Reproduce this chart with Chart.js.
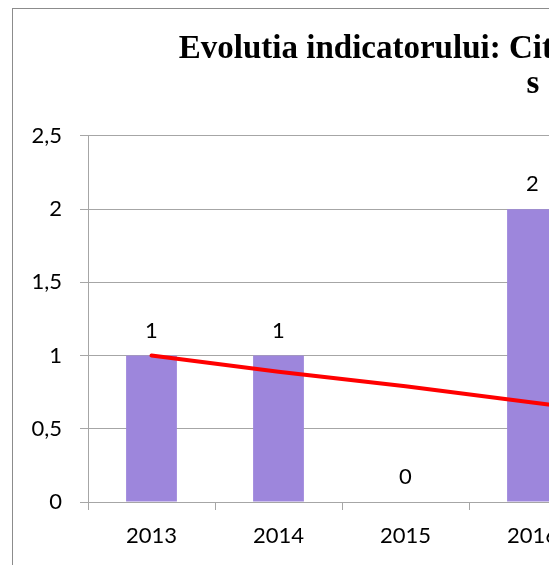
<!DOCTYPE html>
<html>
<head>
<meta charset="utf-8">
<script src="https://cdn.jsdelivr.net/npm/chart.js@4/dist/chart.umd.min.js"></script>
<style>
    html, body { margin: 0; padding: 0; background: #fff; overflow: hidden; }
    #frame {
        position: absolute; left: 12px; top: 8px;
        width: 1108px; height: 600px;
        border: 1px solid #8c8c8c;
    }
</style>
</head>
<body>
<div id="frame"><canvas id="chart"></canvas></div>
<script>
// DATA -----------------------------------------------------------------------

const years = ['2013', '2014', '2015', '2016', '2017', '2018', '2019', '2020']
const values = [1, 1, 0, 2, 0, 0, 1, 0]
const trend = [1, 0.89, 0.79, 0.68, 0.57, 0.46, 0.36, 0.25]
const yTickLabels = ['0', '0,5', '1', '1,5', '2', '2,5']
const titleLines = [
    'Evolutia indicatorului: Citari in reviste si volume BDI',
    's\u2002an'
]

// SETTINGS -------------------------------------------------------------------

const barColor = '#9d86dc'
const trendColor = '#ff0000'
const gridColor = '#a6a6a6'
const tickFont = {family: 'Lato', size: 22}

// value labels above the bars
const barLabels = {
    id: 'barLabels',
    afterDatasetsDraw(chart) {
        const ctx = chart.ctx
        const meta = chart.getDatasetMeta(1)
        ctx.save()
        ctx.font = `${tickFont.size}px ${tickFont.family}`
        ctx.fillStyle = '#000'
        ctx.textAlign = 'center'
        ctx.textBaseline = 'alphabetic'
        meta.data.forEach((bar, i) => {
            ctx.fillText(String(values[i]), bar.x, bar.y - 18)
        })
        ctx.restore()
    }
}

// CHART ----------------------------------------------------------------------

new Chart(document.getElementById('chart'), {
    data: {
        labels: years,
        datasets: [
            {
                type: 'line',
                data: trend,
                borderColor: trendColor,
                borderWidth: 4,
                borderCapStyle: 'round',
                pointRadius: 0,
                tension: 0,
                order: 0
            },
            {
                type: 'bar',
                data: values,
                backgroundColor: barColor,
                categoryPercentage: 0.4,
                barPercentage: 1,
                order: 1
            }
        ]
    },
    options: {
        responsive: true,
        maintainAspectRatio: false,
        animation: false,
        layout: {padding: {left: 0, right: 17, top: 0, bottom: 47}},
        plugins: {
            legend: {display: false},
            tooltip: {enabled: false},
            title: {
                display: true,
                text: titleLines,
                color: '#000',
                font: {family: 'Liberation Serif', size: 33, weight: 'bold', lineHeight: 1.09},
                padding: {top: 22, bottom: 33}
            }
        },
        scales: {
            x: {
                offset: true,
                grid: {
                    offset: true,
                    drawOnChartArea: false,
                    color: gridColor,
                    tickLength: 8
                },
                border: {color: gridColor},
                ticks: {color: '#000', font: tickFont, padding: 13, maxRotation: 0},
                afterFit: scale => { scale.height = 60 }
            },
            y: {
                min: 0,
                max: 2.5,
                ticks: {
                    stepSize: 0.5,
                    color: '#000',
                    font: tickFont,
                    padding: 18,
                    callback: (v, i) => yTickLabels[i]
                },
                grid: {color: gridColor, tickLength: 8},
                border: {color: gridColor},
                afterFit: scale => { scale.width = 75 }
            }
        }
    },
    plugins: [barLabels]
});
</script>
</body>
</html>
